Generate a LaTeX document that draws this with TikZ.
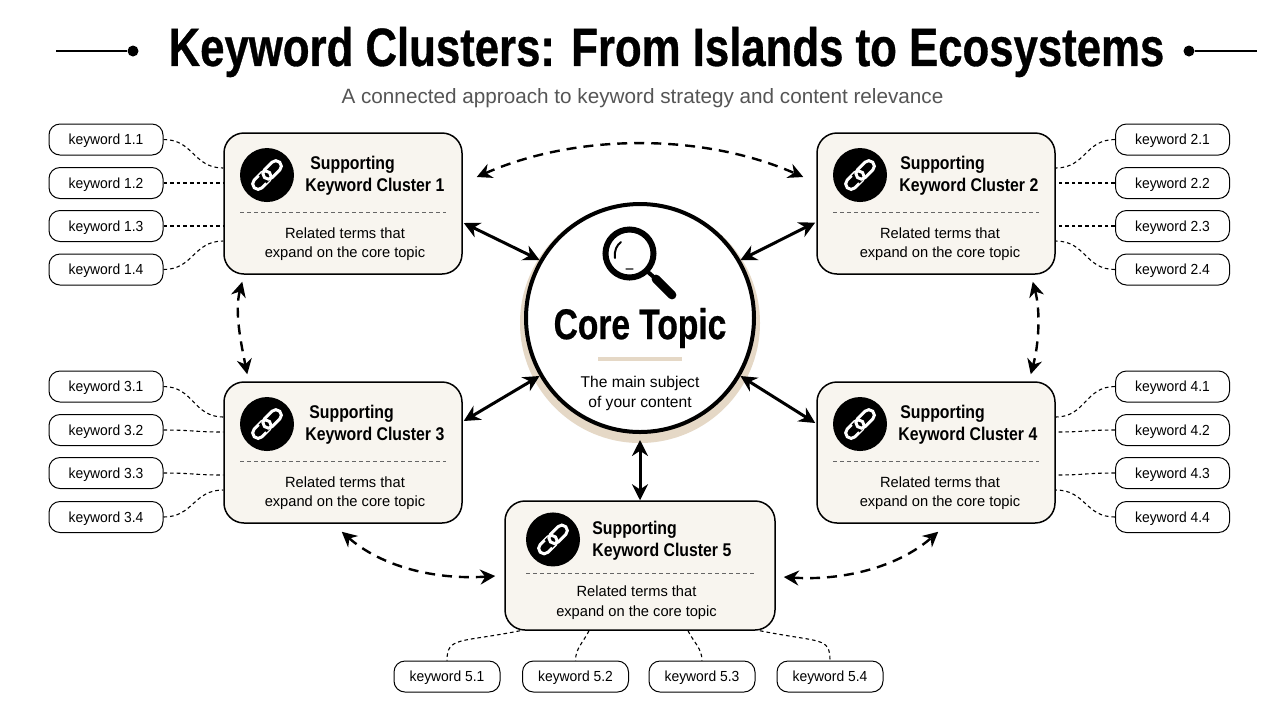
\documentclass[tikz,border=0pt]{standalone}
\usepackage{fontspec}
\setmainfont{Liberation Sans}
\newfontfamily\titlefont[FakeStretch=0.81,FakeBold=0.6]{Liberation Sans Bold}
\newfontfamily\corefont[FakeStretch=0.78,FakeBold=0.5]{Liberation Sans Bold}
\newfontfamily\headfont[FakeStretch=0.86]{Liberation Sans Bold}
\newfontfamily\bodyfont[FakeStretch=0.99]{Liberation Sans}
\newfontfamily\kwfont[FakeStretch=0.95]{Liberation Sans}
\usetikzlibrary{calc}
\usetikzlibrary{arrows.meta}
\definecolor{boxfill}{HTML}{F8F5EF}
\definecolor{beige}{HTML}{E5D8C6}
\definecolor{subgrey}{HTML}{555555}
\tikzset{
  clusterbox/.style={draw=black, line width=0.75pt, fill=boxfill, rounded corners=10pt, inner sep=0pt},
  kwbox/.style={draw=black, line width=0.5pt, fill=white, rounded corners=5.5pt, minimum width=57pt, minimum height=15.5pt, inner sep=0pt, text height=6.8pt, text depth=1.6pt, font=\kwfont\fontsize{7.3}{9}\selectfont},
  kwboxsmall/.style={kwbox, minimum width=53pt},
  kwlink/.style={line width=0.55pt, dash pattern=on 1.8pt off 1.5pt},
  mainarrow/.style={line width=1.5pt, {Stealth[length=8pt,width=8pt]}-{Stealth[length=8pt,width=8pt]}},
  peerarrow/.style={line width=1.2pt, dash pattern=on 5pt off 3.5pt, {Stealth[length=7.5pt,width=7.5pt]}-{Stealth[length=7.5pt,width=7.5pt]}},
  headtext/.style={anchor=west, align=left, inner sep=0pt, font=\headfont\fontsize{9.2}{11}\selectfont},
  bodytext/.style={align=center, inner sep=0pt, font=\bodyfont\fontsize{7.4}{9.6}\selectfont},
  icondot/.style={circle, fill=black, minimum size=27pt, inner sep=0pt},
  enddot/.style={circle, fill=black, minimum size=5.5pt, inner sep=0pt},
}
\newcommand{\keyw}[4]{\node[kwbox] (#1) at ( #2 , #3 ) {#4};}
\newcommand{\keywsmall}[4]{\node[kwboxsmall] (#1) at ( #2 , #3 ) {#4};}
\newcommand{\chainicon}[1]{
  \begin{scope}[shift={(#1)}, rotate=45]
    \draw[white, line width=1.5pt, rounded corners=2.7pt] (-18,-5.5) rectangle (3.5,5.5);
    \draw[black, line width=2.8pt] (-3.5,-5.5) -- (-3.5,5.5);
    \draw[white, line width=1.5pt, rounded corners=2.7pt] (-3.5,-5.5) rectangle (18,5.5);
  \end{scope}}
% number, centre x, centre y, width, height, icon offset, text offset, indent, body offset
\newcommand{\cluster}[9]{
  \node[clusterbox, minimum width=#4*0.5pt, minimum height=#5*0.5pt] (c#1) at ( #2 , #3 ) {};
  \node[icondot] (c#1icon) at ( {#2+#6} , {#3-0.202*#5} ) {};
  \chainicon{c#1icon}
  \node[headtext] (c#1head) at ( {#2+#7} , {#3-0.202*#5+1} ) {\hspace*{#8}Supporting\\Keyword Cluster #1};
  \draw[black!60, line width=0.4pt, dash pattern=on 2pt off 1.5pt] ( {#2+#6-27} , {#3+0.06*#5} ) -- ( {#2-#6+27} , {#3+0.06*#5} );
  \node[bodytext] (c#1body) at ( {#2+#9} , {#3+0.277*#5+1.5} ) {Related terms that\\expand on the core topic};
}
\newcommand{\linkL}[3]{\draw[kwlink] (#1.east) .. controls +(30,0) and +(-30,0) .. ($(#2.west)+(0,#3)$);}
\newcommand{\linkR}[3]{\draw[kwlink] (#1.west) .. controls +(-30,0) and +(30,0) .. ($(#2.east)+(0,#3)$);}
\begin{document}
\begin{tikzpicture}[x=0.5pt, y=-0.5pt]
        \useasboundingbox (0,0) rectangle (1280,720);
        \fill[white] (0,0) rectangle (1280,720);

        % title
        \node[inner sep=0pt, font=\titlefont\fontsize{27}{30}\selectfont] (title) at (666.5,52) {Keyword Clusters: From Islands to Ecosystems};
        \node[inner sep=0pt, text=subgrey, font=\fontsize{10.35}{13}\selectfont] (subtitle) at (642.5,98) {A connected approach to keyword strategy and content relevance};
        \node[enddot] (dotL) at (133,51) {};
        \node[enddot] (dotR) at (1189,51) {};
        \coordinate (lineL) at (56,51);
        \coordinate (lineR) at (1257,51);
        \draw[line width=0.6pt] (lineL) -- (dotL);
        \draw[line width=0.6pt] (dotR) -- (lineR);

        % core topic
        \fill[beige] (640,323) circle (120);
        \node[circle, draw=black, line width=2pt, fill=white, minimum size=114pt, inner sep=0pt] (core) at (640,318) {};
        \draw[line width=3pt] (629.5,253.5) circle (24);
        \draw[line width=2pt, line cap=round] (648,272) -- (656,279);
        \draw[line width=4.4pt, line cap=round] (656,279) -- (672,295);
        \draw[line width=1pt, line cap=round] (615,258) .. controls (614,250) and (617,245) .. (621,242);
        \draw[black!60, line width=0.6pt, line cap=round] (626,269) -- (633,269);
        \node[inner sep=0pt, font=\corefont\fontsize{21.5}{24}\selectfont] (coretitle) at (640,328) {Core Topic};
        \draw[beige, line width=1.8pt] (598,359) -- (682,359);
        \node[align=center, inner sep=0pt, font=\fontsize{7.8}{10}\selectfont] (coretext) at (640,393) {The main subject\\of your content};

        % clusters
        \cluster{1}{343}{203.5}{238}{141}{-76}{-38}{2.5pt}{2}
        \cluster{2}{936}{203.5}{238}{141}{-76}{-37}{0.5pt}{4}
        \cluster{3}{343}{452.5}{238}{141}{-76}{-38}{2pt}{2}
        \cluster{4}{936}{452.5}{238}{141}{-76}{-38}{1pt}{4}
        \cluster{5}{640}{565.5}{270}{129}{-87}{-48}{0pt}{-3.5}

        % keywords left
        \keyw{k11}{106}{139.5}{keyword 1.1}
        \keyw{k12}{106}{183}{keyword 1.2}
        \keyw{k13}{106}{226}{keyword 1.3}
        \keyw{k14}{106}{269.5}{keyword 1.4}
        \keyw{k31}{106}{386.5}{keyword 3.1}
        \keyw{k32}{106}{430}{keyword 3.2}
        \keyw{k33}{106}{473}{keyword 3.3}
        \keyw{k34}{106}{517}{keyword 3.4}

        % keywords right
        \keyw{k21}{1172.5}{139.5}{keyword 2.1}
        \keyw{k22}{1172.5}{183}{keyword 2.2}
        \keyw{k23}{1172.5}{226}{keyword 2.3}
        \keyw{k24}{1172.5}{269.5}{keyword 2.4}
        \keyw{k41}{1172.5}{386.5}{keyword 4.1}
        \keyw{k42}{1172.5}{430}{keyword 4.2}
        \keyw{k43}{1172.5}{473}{keyword 4.3}
        \keyw{k44}{1172.5}{517}{keyword 4.4}

        % keywords bottom
        \keywsmall{k51}{447}{676.5}{keyword 5.1}
        \keywsmall{k52}{575.5}{676.5}{keyword 5.2}
        \keywsmall{k53}{702}{676.5}{keyword 5.3}
        \keywsmall{k54}{830}{676.5}{keyword 5.4}

        % keyword links
        \linkL{k11}{c1}{-35.5}
        \linkL{k12}{c1}{-20.5}
        \linkL{k13}{c1}{22.5}
        \linkL{k14}{c1}{37.5}
        \linkL{k31}{c3}{-35.5}
        \linkL{k32}{c3}{-20.5}
        \linkL{k33}{c3}{22.5}
        \linkL{k34}{c3}{37.5}
        \linkR{k21}{c2}{-35.5}
        \linkR{k22}{c2}{-20.5}
        \linkR{k23}{c2}{22.5}
        \linkR{k24}{c2}{37.5}
        \linkR{k41}{c4}{-35.5}
        \linkR{k42}{c4}{-20.5}
        \linkR{k43}{c4}{22.5}
        \linkR{k44}{c4}{37.5}
        \draw[kwlink] ($(c5.south)+(-120,0)$) .. controls +(-60,12) and +(0,-24) .. (k51.north);
        \draw[kwlink] ($(c5.south)+(-51,0)$) .. controls +(-6,12) and +(0,-12) .. (k52.north);
        \draw[kwlink] ($(c5.south)+(48,0)$) .. controls +(6,12) and +(0,-12) .. (k53.north);
        \draw[kwlink] ($(c5.south)+(120,0)$) .. controls +(60,12) and +(0,-24) .. (k54.north);

        % arrows to the core
        \draw[mainarrow] ($(c1.east)+(1,19.5)$) -- (core.150);
        \draw[mainarrow] ($(c2.west)+(-1,19)$) -- (core.30);
        \draw[mainarrow] ($(c3.east)+(1,-31.5)$) -- (core.210);
        \draw[mainarrow] ($(c4.west)+(-1,-29.5)$) -- (core.330);
        \draw[mainarrow] (c5.north) -- ($(core.south)+(0,6)$);

        % arrows between clusters
        \draw[peerarrow] ($(c1.east)+(14,-26.5)$) .. controls +(100,-44) and +(-100,-44) .. ($(c2.west)+(-13,-26.5)$);
        \draw[peerarrow] ($(c1.south west)+(19,7)$) .. controls +(-8,30) and +(-6,-30) .. ($(c3.north west)+(24,-7)$);
        \draw[peerarrow] ($(c2.south east)+(-23,7)$) .. controls +(8,30) and +(8,-30) .. ($(c4.north east)+(-25,-7)$);
        \draw[peerarrow] ($(c3.south east)+(-121,8)$) .. controls +(40,35) and +(-60,4) .. ($(c5.west)+(-9,10.5)$);
        \draw[peerarrow] ($(c5.east)+(8,11.5)$) .. controls +(60,4) and +(-40,35) .. ($(c4.south west)+(122,8)$);
\end{tikzpicture}
\end{document}
